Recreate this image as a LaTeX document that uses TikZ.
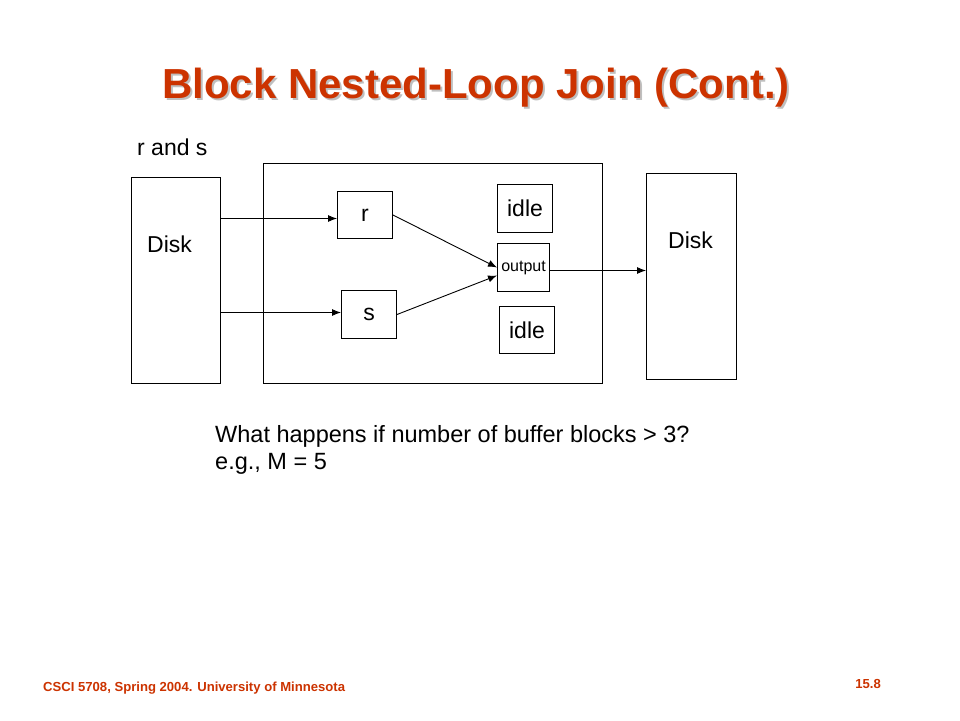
\documentclass[tikz,border=0pt]{standalone}
\usepackage{fontspec}
\setmainfont{Liberation Sans}
\usetikzlibrary{arrows.meta}
\definecolor{slidered}{RGB}{204,51,0}
\tikzset{x=1pt, y=-1pt,
    box/.style={draw, line width=1pt, inner sep=0pt, anchor=north west,
        font=\fontsize{23}{27}\selectfont},
    flow/.style={line width=0.9pt, -{Latex[length=9pt,width=7pt]}},
    lbl/.style={font=\fontsize{23}{27}\selectfont, inner sep=0pt, anchor=base west},
    headline/.style={font=\fontsize{42}{46}\bfseries\selectfont, inner sep=0pt, anchor=base},
    footline/.style={font=\fontsize{13.1}{15}\bfseries\selectfont, text=slidered,
        inner sep=0pt},
    }
\begin{document}
\begin{tikzpicture}
\fill[white] (0,0) rectangle (960,720);
\useasboundingbox (0,0) rectangle (960,720);
% title
\node[headline, text=black!25] (titleshadow) at (478,100) {Block Nested-Loop Join (Cont.)};
\node[headline, text=slidered] (title) at (476,98) {Block Nested-Loop Join (Cont.)};
% disks and buffer
\node[lbl] (rands) at (137,155) {r and s};
\node[box, minimum width=89pt, minimum height=206pt] (diskL) at (131,177) {};
\node[lbl] (diskLlbl) at (147,252) {Disk};
\node[box, minimum width=339pt, minimum height=220pt] (buffer) at (263,163) {};
\node[box, minimum width=55pt, minimum height=47pt] (r) at (337,191) {r};
\node[box, minimum width=55pt, minimum height=48pt] (s) at (341,290) {s};
\node[box, minimum width=55pt, minimum height=48pt] (idleA) at (497,184) {idle};
\node[box, minimum width=52pt, minimum height=48pt,
    font=\fontsize{16}{18}\selectfont] (out) at (497,243) {output};
\node[box, minimum width=55pt, minimum height=47pt] (idleB) at (499,306) {idle};
\node[box, minimum width=90pt, minimum height=206pt] (diskR) at (646,173) {};
\node[lbl] (diskRlbl) at (668,248) {Disk};
% connectors
\coordinate (rin) at ([yshift=-3.5pt]r.west);
\coordinate (sin) at ([yshift=2pt]s.west);
\coordinate (outgo) at ([yshift=-3pt]out.east);
\draw[flow] (diskL.east |- rin) -- (rin);
\draw[flow] (diskL.east |- sin) -- (sin);
\draw[flow] (r.east) -- (out.west);
\draw[flow] (s.east) -- ([yshift=-8pt]out.west);
\draw[flow] (outgo) -- (diskR.west |- outgo);
% question
\node[lbl, align=left, font=\fontsize{23.5}{26.5}\selectfont] (question) at (215,469)
    {What happens if number of buffer blocks > 3?\\e.g., M = 5};
% footer
\node[footline, anchor=base west] (course) at (43,691) {CSCI 5708, Spring 2004. University of Minnesota};
\node[footline, anchor=base east] (page) at (881,688) {15.8};
\end{tikzpicture}
\end{document}
